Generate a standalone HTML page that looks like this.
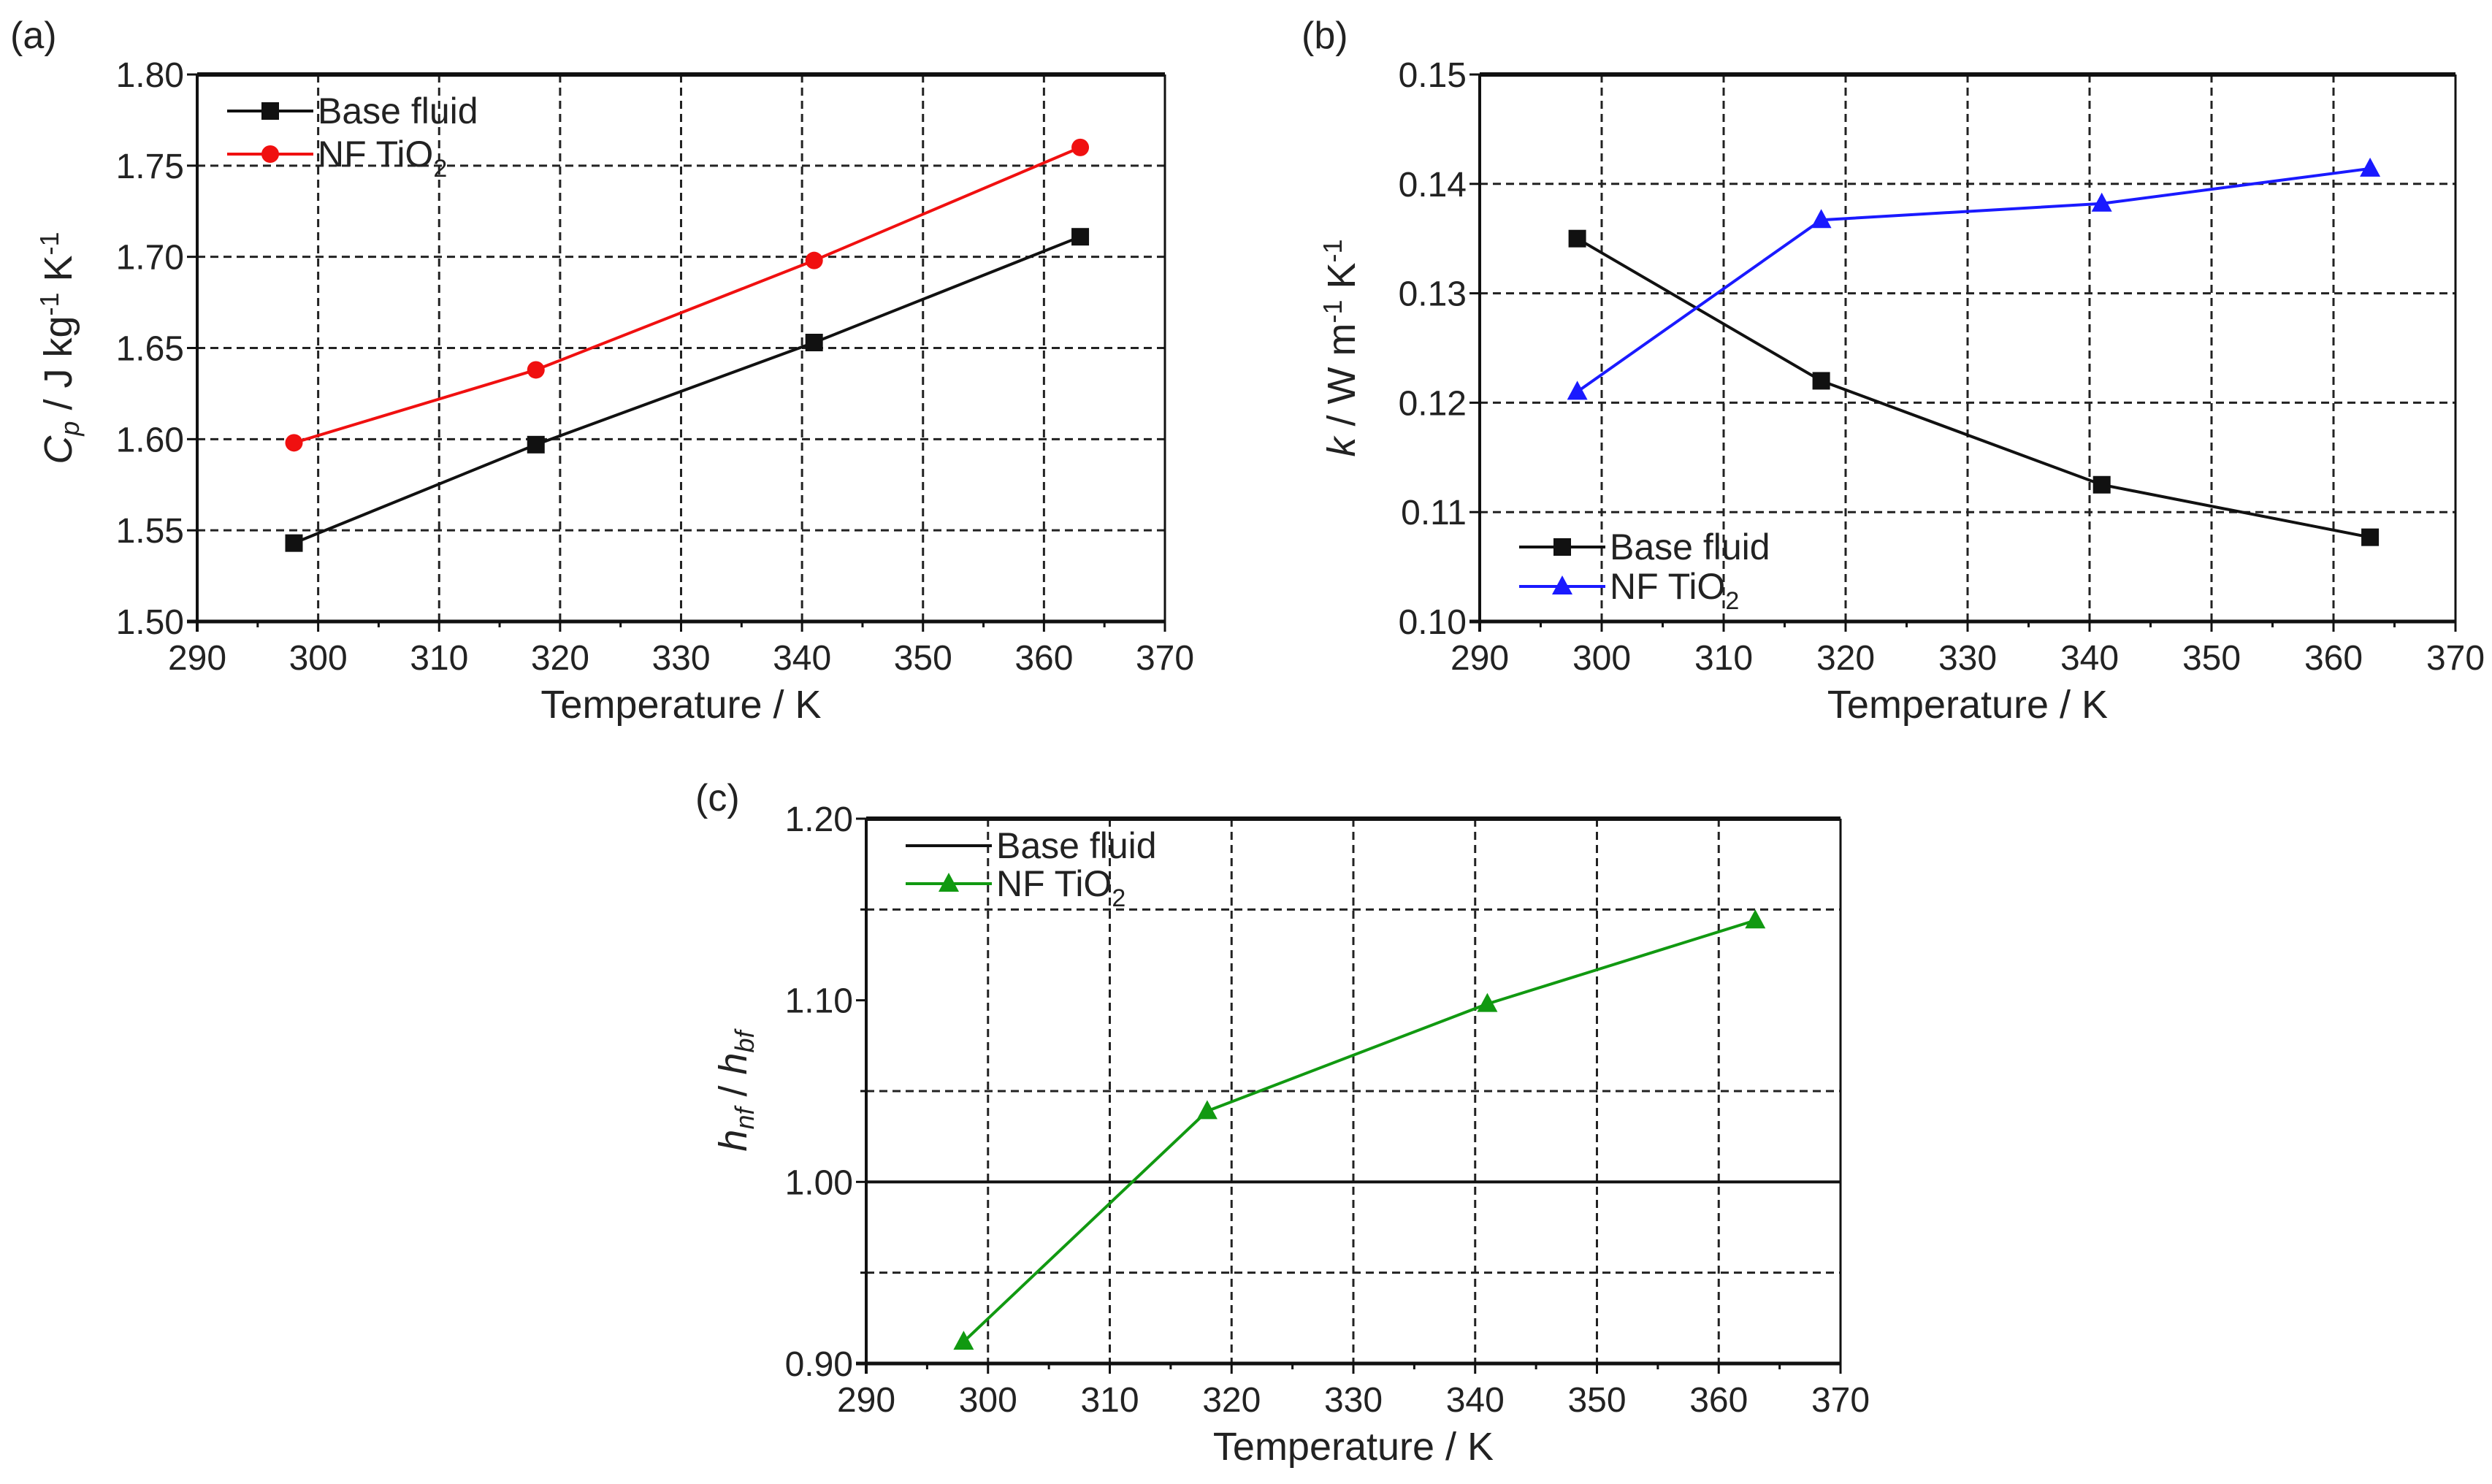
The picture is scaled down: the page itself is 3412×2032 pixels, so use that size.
<!DOCTYPE html>
<html><head><meta charset="utf-8"><style>
html,body{margin:0;padding:0;background:#fff}
svg{display:block}
text{font-family:"Liberation Sans Narrow","Liberation Sans",sans-serif;fill:#222}
</style></head><body>
<svg id="fig" width="3412" height="2032" viewBox="0 0 3412 2032" xmlns="http://www.w3.org/2000/svg"></svg>
<script>
const temps = [298, 318, 341, 363];
const xTicks = [290, 300, 310, 320, 330, 340, 350, 360, 370];
const cpBase = [1.543, 1.597, 1.653, 1.711];
const cpNF = [1.598, 1.638, 1.698, 1.760];
const cpTicks = [1.50, 1.55, 1.60, 1.65, 1.70, 1.75, 1.80];
const kBase = [0.135, 0.122, 0.1125, 0.1077];
const kNF = [0.121, 0.1367, 0.1382, 0.1414];
const kTicks = [0.10, 0.11, 0.12, 0.13, 0.14, 0.15];
const hNF = [0.912, 1.039, 1.098, 1.144];
const hBase = [1.00, 1.00];
const hTicks = [0.90, 1.00, 1.10, 1.20];
const hGrid = [0.95, 1.05, 1.15];

const NS = "http://www.w3.org/2000/svg";
const svg = document.getElementById('fig');
function el(tag, attrs, parent, txt) {
  const e = document.createElementNS(NS, tag);
  for (const k in attrs) e.setAttribute(k, attrs[k]);
  if (txt !== undefined) e.textContent = txt;
  (parent || svg).appendChild(e);
  return e;
}
function marker(g, type, x, y, color) {
  let m;
  if (type === 'square') m = el('rect', {x: x - 12, y: y - 12, width: 24, height: 24, fill: color}, g);
  else if (type === 'circle') m = el('circle', {cx: x, cy: y, r: 12, fill: color}, g);
  else m = el('polygon', {points: `${x},${y - 15} ${x - 14},${y + 11} ${x + 14},${y + 11}`, fill: color}, g);
  return m;
}
function panel(cfg) {
  const g = el('g', {});
  
  
  const {L, R, T, B, ymin, ymax} = cfg;
  const sx = v => L + (v - 290) / 80 * (R - L);
  const sy = v => B - (v - ymin) / (ymax - ymin) * (B - T);
  xTicks.slice(1, -1).forEach(t => el('line', {x1: sx(t), x2: sx(t), y1: T, y2: B, stroke: '#222', 'stroke-width': 3, 'stroke-dasharray': '11,7'}, g));
  cfg.grid.forEach(v => el('line', {x1: L, x2: R, y1: sy(v), y2: sy(v), stroke: '#222', 'stroke-width': 3, 'stroke-dasharray': '11,7'}, g));
  el('line', {x1: L, x2: R, y1: T, y2: T, stroke: '#111', 'stroke-width': 6}, g);
  el('line', {x1: R, x2: R, y1: T, y2: B, stroke: '#111', 'stroke-width': 3}, g);
  el('line', {x1: L, x2: L, y1: T, y2: B + 14, stroke: '#111', 'stroke-width': 4}, g);
  el('line', {x1: L - 14, x2: R, y1: B, y2: B, stroke: '#111', 'stroke-width': 5}, g);
  for (let t = 290; t <= 370; t += 5) {
    const maj = t % 10 === 0;
    el('line', {x1: sx(t), x2: sx(t), y1: B, y2: B + (maj ? 14 : 8), stroke: '#111', 'stroke-width': 3}, g);
  }
  xTicks.forEach(t => {
    const tx = el('text', {x: sx(t), y: B + 66, 'text-anchor': 'middle', 'font-size': 48}, g, String(t));
    
    
  });
  cfg.ticks.forEach(v => {
    el('line', {x1: L - 14, x2: L, y1: sy(v), y2: sy(v), stroke: '#111', 'stroke-width': 3}, g);
    const ty = el('text', {x: L - 18, y: sy(v) + 17, 'text-anchor': 'end', 'font-size': 48}, g, v.toFixed(2));
    
    
  });
  cfg.minor.forEach(v => el('line', {x1: L - 8, x2: L, y1: sy(v), y2: sy(v), stroke: '#111', 'stroke-width': 3}, g));
  const xt = el('text', {x: (L + R) / 2, y: B + 132, 'text-anchor': 'middle', 'font-size': 54}, g, 'Temperature / K');
  
  
  const yt = el('text', {transform: `translate(${cfg.ytx},${(T + B) / 2}) rotate(-90)`, 'text-anchor': 'middle', 'font-size': 54}, g);
  yt.innerHTML = cfg.ytitle;
  
  
  const pl = el('text', {x: cfg.lx, y: cfg.ly, 'font-size': 52}, g, cfg.label);
  
  
  cfg.series.forEach((s, i) => {
    const sg = el('g', {}, g);
    
    
    const xs = s.xs || temps;
    const pts = s.vals.map((v, j) => `${sx(xs[j])},${sy(v)}`).join(' ');
    el('polyline', {points: pts, fill: 'none', stroke: s.color, 'stroke-width': s.sw || 4}, sg);
    if (s.marker) s.vals.forEach((v, j) => {
      const m = marker(sg, s.marker, sx(xs[j]), sy(v), s.color);
      
      
    });
    const ly = cfg.legY[i];
    const lg = el('g', {}, g);
    
    
    el('line', {x1: cfg.legX, x2: cfg.legX + 118, y1: ly, y2: ly, stroke: s.color, 'stroke-width': 4}, lg);
    if (s.marker) marker(lg, s.marker, cfg.legX + 59, ly, s.color);
    const lt = el('text', {x: cfg.legX + 124, y: ly + 17, 'font-size': 50}, lg);
    lt.innerHTML = s.label;
  });
}
const nfLabel = 'NF TiO<tspan dy="14" font-size="34">2</tspan>';
panel({name: 'panel-a-heat-capacity', L: 270, R: 1595, T: 102, B: 851, ymin: 1.50, ymax: 1.80,
  ticks: cpTicks, grid: [1.55, 1.60, 1.65, 1.70, 1.75], minor: [],
  ytx: 98, ytitle: '<tspan font-style="italic">C</tspan><tspan dy="10" font-size="36" font-style="italic">p</tspan><tspan dy="-10"> / J kg</tspan><tspan dy="-18" font-size="36">-1</tspan><tspan dy="18"> K</tspan><tspan dy="-18" font-size="36">-1</tspan>',
  lx: 14, ly: 66, label: '(a)', legX: 311, legY: [152, 211],
  series: [
    {name: 'series-base-fluid', vals: cpBase, color: '#111', marker: 'square', label: 'Base fluid'},
    {name: 'series-nf-tio2', vals: cpNF, color: '#f01010', marker: 'circle', label: nfLabel}
  ]});
panel({name: 'panel-b-thermal-conductivity', L: 2026, R: 3362, T: 102, B: 851, ymin: 0.10, ymax: 0.15,
  ticks: kTicks, grid: [0.11, 0.12, 0.13, 0.14], minor: [],
  ytx: 1855, ytitle: '<tspan font-style="italic">k</tspan> / W m<tspan dy="-18" font-size="36">-1</tspan><tspan dy="18"> K</tspan><tspan dy="-18" font-size="36">-1</tspan>',
  lx: 1782, ly: 66, label: '(b)', legX: 2080, legY: [749, 803],
  series: [
    {name: 'series-base-fluid', vals: kBase, color: '#111', marker: 'square', label: 'Base fluid'},
    {name: 'series-nf-tio2', vals: kNF, color: '#1a1aff', marker: 'triangle', label: nfLabel}
  ]});
panel({name: 'panel-c-heat-transfer-ratio', L: 1186, R: 2520, T: 1121, B: 1867, ymin: 0.90, ymax: 1.20,
  ticks: hTicks, grid: hGrid, minor: hGrid,
  ytx: 1022, ytitle: '<tspan font-style="italic">h</tspan><tspan dy="10" font-size="36" font-style="italic">nf</tspan><tspan dy="-10"> / </tspan><tspan font-style="italic">h</tspan><tspan dy="10" font-size="36" font-style="italic">bf</tspan>',
  lx: 952, ly: 1110, label: '(c)', legX: 1240, legY: [1158, 1210],
  series: [
    {name: 'series-base-fluid', vals: hBase, xs: [290, 370], color: '#111', label: 'Base fluid', sw: 4},
    {name: 'series-nf-tio2', vals: hNF, color: '#119911', marker: 'triangle', label: nfLabel}
  ]});
</script>
</body></html>
